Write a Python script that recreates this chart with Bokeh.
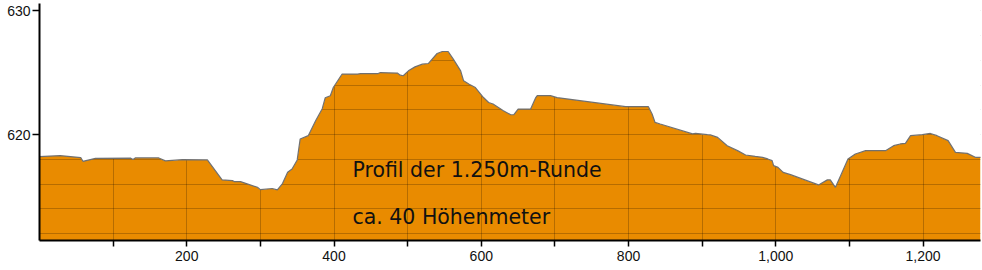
from bokeh.plotting import figure
from bokeh.models import Range1d, FixedTicker, NumeralTickFormatter, ColumnDataSource
from bokeh.core.properties import value
from bokeh.embed import file_html
from bokeh.resources import INLINE

# distance along the loop (m) and elevation (m)
distance = [0, 28, 56, 59, 76, 124, 127, 130, 162, 171, 194, 228, 248, 262, 265, 273, 280,
            296, 300, 316, 323, 330, 337, 343, 350, 354, 365, 375, 384, 388, 395, 399, 411,
            432, 436, 460, 463, 486, 490, 494, 501, 510, 520, 528, 540, 547, 555, 562, 572,
            576, 583, 592, 603, 610, 616, 630, 640, 644, 650, 667, 674, 676, 694, 703, 796,
            827, 832, 836, 843, 887, 891, 907, 911, 921, 934, 948, 959, 972, 982, 989, 995,
            997, 1003, 1010, 1020, 1058, 1070, 1074, 1081, 1088, 1098, 1108, 1122, 1149,
            1160, 1169, 1176, 1183, 1199, 1210, 1219, 1234, 1244, 1260, 1271, 1278]
elevation = [618.23, 618.31, 618.15, 617.85, 618.09, 618.1, 618.0, 618.12, 618.12, 617.88,
             617.98, 617.96, 616.35, 616.29, 616.2, 616.21, 616.07, 615.75, 615.56, 615.65,
             615.54, 616.05, 616.96, 617.23, 617.96, 619.65, 619.92, 621.13, 622.1, 622.98,
             623.15, 623.81, 624.9, 624.9, 624.94, 624.94, 625.02, 624.98, 624.81, 624.76,
             625.16, 625.48, 625.7, 625.75, 626.56, 626.72, 626.72, 626.1, 625.16, 624.35,
             624.09, 623.81, 623.0, 622.6, 622.48, 621.94, 621.61, 621.61, 622.07, 622.07,
             623.0, 623.15, 623.15, 623.0, 622.26, 622.26, 621.67, 620.99, 620.86, 620.06,
             620.1, 620.0, 619.98, 619.78, 619.11, 618.71, 618.36, 618.25, 618.17, 618.04,
             617.9, 617.5, 617.36, 616.96, 616.77, 615.94, 616.35, 616.35, 615.75, 616.69,
             618.04, 618.44, 618.71, 618.71, 619.11, 619.25, 619.3, 619.92, 620.0, 620.1,
             619.92, 619.52, 618.57, 618.49, 618.17, 618.17]

x_ticks = [100, 200, 300, 400, 500, 600, 700, 800, 900, 1000, 1100, 1200]
x_labelled = [200, 400, 600, 800, 1000, 1200]
y_ticks = [620, 630]
y_grid = [612, 614, 616, 618, 620, 622, 624, 626, 628, 630]

title_lines = ["Profil der 1.250m-Runde", "ca. 40 Höhenmeter"]
title_x = [425, 425]
title_y = [617.18, 613.31]

ORANGE = "#E98B00"

src = ColumnDataSource(dict(x=distance, y=elevation,
                            bottom=[600] * len(distance), top=[640] * len(distance)))

p = figure(width=982, height=270, output_backend="svg", toolbar_location=None,
           x_range=Range1d(0, 1278), y_range=Range1d(611.45, 630.6))
p.min_border_left = 39
p.min_border_right = 2
p.min_border_top = 3
p.min_border_bottom = 30
p.outline_line_color = None
p.background_fill_color = "white"
p.border_fill_color = "white"

# filled profile
p.varea(x="x", y1="bottom", y2="y", source=src, fill_color=ORANGE, level="glyph")

# grid lines drawn over the fill, then covered by a white sky above the profile
p.xgrid.ticker = FixedTicker(ticks=x_ticks)
p.ygrid.ticker = FixedTicker(ticks=y_grid)
for g in (p.xgrid[0], p.ygrid[0]):
    g.level = "guide"
    g.grid_line_color = "#000000"
    g.grid_line_alpha = 0.22
    g.grid_line_width = 1

p.varea(x="x", y1="y", y2="top", source=src, fill_color="white", level="annotation")
p.line(x="x", y="y", source=src, line_color="#707070", line_width=1.2, level="annotation")

p.text(x=title_x, y=title_y, text=title_lines, text_font=value("DejaVu Sans"),
       text_font_size="20.5px", text_color="#111111", text_baseline="alphabetic",
       level="annotation")

# axes
p.xaxis.ticker = FixedTicker(ticks=x_ticks)
p.xaxis.formatter = NumeralTickFormatter(format="0,0")
p.xaxis.major_label_overrides = {t: "" for t in x_ticks if t not in x_labelled}
p.yaxis.ticker = FixedTicker(ticks=y_ticks)
for ax in (p.xaxis[0], p.yaxis[0]):
    ax.level = "overlay"
    ax.axis_line_color = "black"
    ax.axis_line_width = 2
    ax.major_tick_line_color = "black"
    ax.major_tick_line_width = 1.5
    ax.major_tick_in = 0
    ax.minor_tick_line_color = None
    ax.major_label_text_font = "Liberation Sans"
    ax.major_label_text_font_size = "14px"
    ax.major_label_text_color = "#111111"
p.xaxis.major_tick_out = 6
p.xaxis.major_label_standoff = 4
p.yaxis.major_tick_out = 7
p.yaxis.major_label_standoff = 2

open("out.html", "w").write(file_html(p, INLINE))
